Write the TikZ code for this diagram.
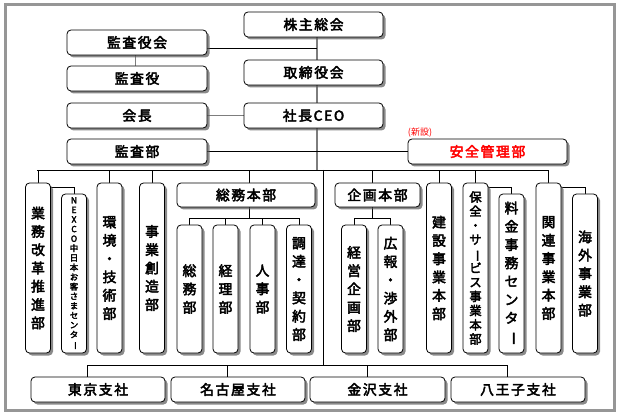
\documentclass[tikz,border=0pt]{standalone}
\usepackage{fontspec}
\usepackage{graphicx}
\newfontfamily\jp{Noto Sans CJK JP}
\newfontfamily\jpb{Noto Sans CJK JP}[FakeBold=3.2]
\newfontfamily\jpbls{Noto Sans CJK JP}[FakeBold=3.2, LetterSpace=12]
\usetikzlibrary{shadows,backgrounds,calc}
\definecolor{framegray}{RGB}{150,150,150}
\definecolor{trunkgray}{RGB}{125,125,125}
\newcommand{\hfnt}{\jpbls\fontsize{13.8}{16}\selectfont}
\newcommand{\vfnt}{\jpb\fontsize{13.8}{18.3}\selectfont}
\newcommand{\vbarmark}{\rotatebox[origin=c]{-90}{ー}}
\tikzset{
  box/.style={draw=black, line width=0.8pt, rounded corners=4pt, fill=white,
    drop shadow={shadow xshift=2.5pt, shadow yshift=-2.5pt, fill=black!65, opacity=0.7},
    inner sep=0pt},
  hb/.style={box, minimum height=25pt, font=\hfnt},
  vb/.style={box, minimum width=25pt, align=center, font=\vfnt},
  ln/.style={line width=0.6pt, black},
  gl/.style={line width=1.3pt, trunkgray},
  gthin/.style={line width=0.8pt, trunkgray},
}
\begin{document}
\begin{tikzpicture}[x=1pt,y=-1pt]
\useasboundingbox (0,0) rectangle (621,414);
\draw[line width=3pt, framegray] (5,5) rectangle (614.5,410.5);

% top column
\node[hb, minimum width=139pt] (sh) at (313.5,24.5) {株主総会};
\node[hb, minimum width=140pt] (kk) at (137,42.5) {監査役会};
\node[hb, minimum width=140pt] (ky) at (137,78.5) {監査役};
\node[hb, minimum width=139pt] (tr) at (313.5,72.5) {取締役会};
\node[hb, minimum width=140pt] (kc) at (137,115.5) {会長};
\node[hb, minimum width=139pt] (ceo) at (313.5,115.5) {社長CEO};
\node[hb, minimum width=140pt] (kb) at (137,151.5) {監査部};
\node[hb, minimum width=159pt, text=red] (an) at (487.5,151.5) {安全管理部};
\node[text=red, font=\jp\fontsize{9}{10}\selectfont, inner sep=0pt] (shinsetsu) at (420,132.5) {(新設)};

% middle row
\node[vb, minimum height=170pt] (gm) at (38,268) {業\\務\\改\\革\\推\\進\\部};
\node[vb, minimum height=159pt, font=\jpb\fontsize{8.5}{9.6}\selectfont] (nx) at (74,273.5)
  {N\\E\\X\\C\\O\\中\\日\\本\\お\\客\\さ\\ま\\セ\\ン\\タ\\\vbarmark};
\node[vb, minimum height=170pt] (kg) at (109.5,268) {環\\境\\・\\技\\術\\部};
\node[vb, minimum height=170pt] (js) at (152,268) {事\\業\\創\\造\\部};
\node[hb, minimum width=138pt, minimum height=24pt] (so) at (246,195) {総務本部};
\node[vb, minimum height=128pt] (sm) at (189.5,289) {総\\務\\部};
\node[vb, minimum height=128pt] (kr) at (225.5,289) {経\\理\\部};
\node[vb, minimum height=128pt] (jj) at (262.5,289) {人\\事\\部};
\node[vb, minimum height=128pt] (ck) at (299,289) {調\\達\\・\\契\\約\\部};
\node[hb, minimum width=85pt, minimum height=24pt] (kh) at (377.5,195) {企画本部};
\node[vb, minimum height=128pt] (kp) at (354,289) {経\\営\\企\\画\\部};
\node[vb, minimum height=128pt] (kw) at (390.5,289) {広\\報\\・\\渉\\外\\部};
\node[vb, minimum height=170pt] (ks) at (439,268) {建\\設\\事\\業\\本\\部};
\node[vb, minimum height=170pt, font=\jpb\fontsize{12.3}{14.2}\selectfont] (hz) at (475.5,268)
  {保\\全\\・\\サ\\\vbarmark\\ビ\\ス\\事\\業\\本\\部};
\node[vb, minimum height=159pt] (rk) at (511.5,273.5) {料\\金\\事\\務\\セ\\ン\\タ\\\vbarmark};
\node[vb, minimum height=170pt] (kj) at (548.5,268) {関\\連\\事\\業\\本\\部};
\node[vb, minimum height=159pt] (kgai) at (585,273.5) {海\\外\\事\\業\\部};

% branches
\node[hb, minimum width=134pt] (tk) at (98,389.5) {東京支社};
\node[hb, minimum width=134pt] (ng) at (238,389.5) {名古屋支社};
\node[hb, minimum width=135pt] (kz) at (377.5,389.5) {金沢支社};
\node[hb, minimum width=134pt] (hc) at (518,389.5) {八王子支社};

\coordinate (trk) at (317,170);
\coordinate (busL) at (37,170);
\coordinate (busR) at (548.5,170);
\coordinate (trk2) at (323,365);
\coordinate (bbL) at (87,365);
\coordinate (bbR) at (507,365);
\coordinate (soSub) at (249,218);
\coordinate (khSub) at (372,218);

\begin{scope}[on background layer]
  \draw[gl] (sh.south -| trk) -- (trk);
  \draw[ln] ($(kk.east)+(0,5.5)$) -- ($(kk.east -| trk)+(0,5.5)$);
  \draw[gthin] ($(kk.south)+(-2,0)$) -- ($(ky.north)+(-2,0)$);
  \draw[gl] (kc.east) -- (ceo.west);
  \draw[ln] (kb.east) -- (an.west);
  % main bus
  \draw[ln] (busL) -- (busR);
  \draw[ln] (gm.north) -- (gm.north |- busL);
  \draw[ln] (kg.north) -- (kg.north |- busL);
  \draw[ln] (js.north) -- (js.north |- busL);
  \draw[ln] (soSub |- so.north) -- (soSub |- busL);
  \draw[ln] (khSub |- kh.north) -- (khSub |- busL);
  \draw[ln] (ks.north) -- (ks.north |- busL);
  \draw[ln] (hz.north) -- (hz.north |- busL);
  \draw[ln] (kj.north) -- (kj.north |- busL);
  % side links
  \draw[ln] ($(gm.north east)+(0,5)$) -| (nx.north);
  \draw[ln] ($(hz.north east)+(0,5)$) -| (rk.north);
  \draw[ln] ($(kj.north east)+(0,5)$) -| (kgai.north);
  % sub buses
  \draw[ln] (soSub |- so.south) -- (soSub);
  \draw[ln] (sm.north) -- (sm.north |- soSub) -- (ck.north |- soSub) -- (ck.north);
  \draw[ln] (kr.north) -- (kr.north |- soSub);
  \draw[ln] (jj.north) -- (jj.north |- soSub);
  \draw[ln] (khSub |- kh.south) -- (khSub);
  \draw[ln] (kp.north) -- (kp.north |- khSub) -- (kw.north |- khSub) -- (kw.north);
  % branch bus
  \draw[ln] (trk2 |- busL) -- (trk2);
  \draw[ln] (bbL) -- (bbR);
  \draw[ln] (bbL) -- (bbL |- tk.north);
  \draw[ln] ($(ng.north)+(-11,0)$) -- ($(ng.north)+(-11,-12)$);
  \draw[ln] ($(kz.north)+(-10.5,0)$) -- ($(kz.north)+(-10.5,-12)$);
  \draw[ln] (bbR) -- (bbR |- hc.north);
\end{scope}
\end{tikzpicture}
\end{document}
